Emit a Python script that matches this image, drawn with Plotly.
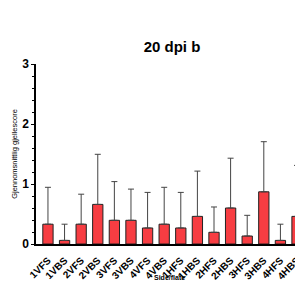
import plotly.graph_objects as go

categories = ["1VFS", "1VBS", "2VFS", "2VBS", "3VFS", "3VBS", "4VFS", "4VBS",
              "1HFS", "1HBS", "2HFS", "2HBS", "3HFS", "3HBS", "4HFS", "4HBS"]
means = [0.33, 0.06, 0.33, 0.66, 0.395, 0.395, 0.267, 0.33,
         0.267, 0.46, 0.195, 0.60, 0.133, 0.87, 0.06, 0.46]
upper = [0.945, 0.33, 0.83, 1.495, 1.04, 0.915, 0.86, 0.945,
         0.86, 1.215, 0.617, 1.43, 0.478, 1.705, 0.33, 1.31]
errors = [u - m for u, m in zip(upper, means)]
y_ticks = [0, 1, 2, 3]

fig = go.Figure(go.Bar(
    x=categories, y=means,
    marker=dict(color="#F73D42", line=dict(color="#222222", width=1)),
    width=0.62,
    error_y=dict(type="data", array=errors, symmetric=False,
                 arrayminus=[0] * len(errors),
                 color="#444444", thickness=1, width=3),
))

# the page body adds an 8px offset, so the figure is 8px smaller and shifted
fig.update_layout(
    width=295, height=275,
    margin=dict(l=28, r=0, t=56, b=39),
    paper_bgcolor="white", plot_bgcolor="white",
    showlegend=False,
    font=dict(family="Liberation Sans, Arial", color="black"),
    title=dict(text="<b>20 dpi b</b>", x=0.556, xanchor="center", y=0.858,
               yanchor="middle", font=dict(size=15)),
    annotations=[dict(text="<b>Side/flate</b>", x=0.5, xref="paper",
                      xanchor="center", y=-0.158, yref="paper", yanchor="top",
                      showarrow=False, font=dict(size=7))],
)
fig.update_xaxes(
    range=[-0.72, 15.36], showline=True, linecolor="black", linewidth=1.5,
    ticks="outside", ticklen=5, tickcolor="rgba(0,0,0,0)",
    tickangle=-45, tickfont=dict(size=10, family="Liberation Sans, Arial"),
    tickprefix="<b>", ticksuffix="</b>", automargin=False,
)
fig.update_yaxes(
    range=[0, 3], tickvals=y_ticks, ticktext=[f"<b>{v}</b>" for v in y_ticks],
    showline=True, linecolor="black", linewidth=1.5, ticks="outside",
    ticklen=3, tickwidth=1, tickcolor="black", showgrid=False, zeroline=False,
    tickfont=dict(size=12), automargin=False,
    minor=dict(dtick=0.2, ticks="outside", ticklen=2, tickcolor="black"),
    title=dict(text="Gjennomsnittlig gjellescore", font=dict(size=7.5), standoff=4),
)

fig.write_html("out.html")
